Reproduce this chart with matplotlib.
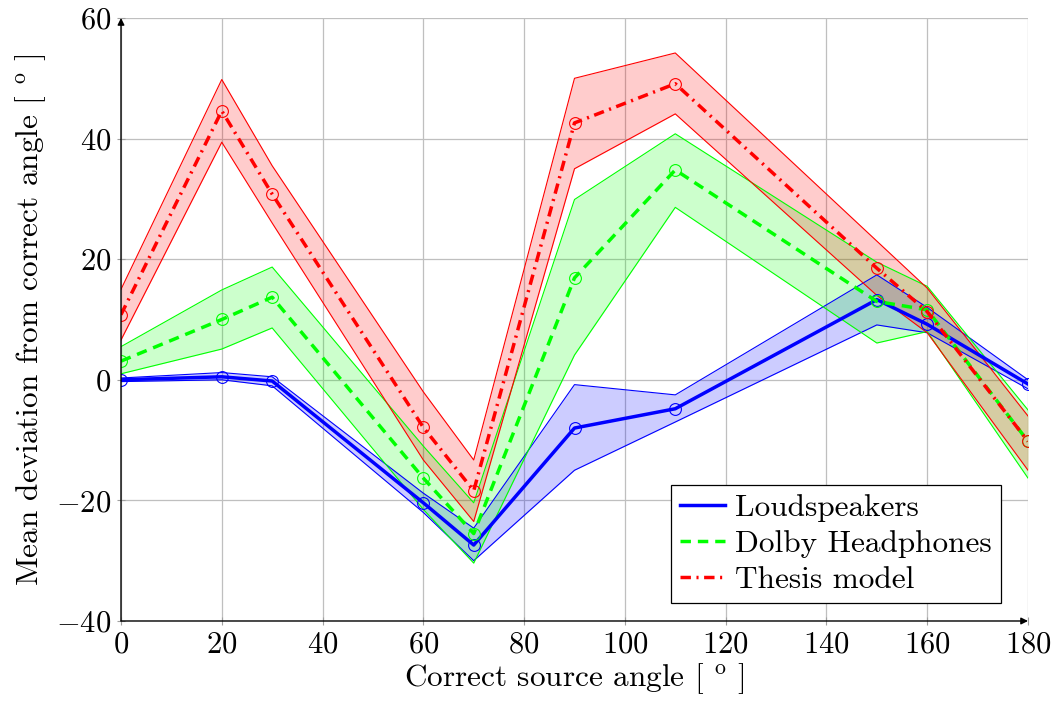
import matplotlib
matplotlib.use('Agg')
import matplotlib.pyplot as plt

# data
angles = [0, 20, 30, 60, 70, 90, 110, 150, 160, 180]

loud_mean = [0, 0.5, -0.2, -20.4, -27.4, -8, -4.8, 13.3, 9.2, -0.7]
loud_upper = [0.3, 1.2, 0.5, -18.8, -24.6, -0.8, -2.5, 17.4, 12.0, 0]
loud_lower = [-0.3, 0, -1.0, -22, -30, -15, -7, 9.1, 7.8, -1.5]

dolby_mean = [3.1, 10, 13.7, -16.3, -25.5, 16.9, 34.8, 13, 11.6, -10.2]
dolby_upper = [5.5, 14.9, 18.7, -11, -20.4, 29.9, 40.8, 19.5, 15.5, -5]
dolby_lower = [1.0, 5.1, 8.6, -21.5, -30.4, 4.1, 28.6, 6.1, 8, -16.3]

model_mean = [10.8, 44.6, 30.8, -7.9, -18.4, 42.6, 49.1, 18.5, 11.3, -10.2]
model_upper = [15, 49.8, 35.5, -2, -13.3, 50, 54.2, 23, 15.2, -6]
model_lower = [6.6, 39.4, 26, -13.3, -23.5, 35, 44.1, 14, 7.8, -15]

plt.rcParams['font.family'] = 'serif'
plt.rcParams['font.serif'] = ['cmr10']
plt.rcParams['mathtext.fontset'] = 'cm'
plt.rcParams['axes.formatter.use_mathtext'] = True
plt.rcParams['font.size'] = 22

fig = plt.figure(figsize=(10.54, 7.11), dpi=100)
ax = fig.add_axes([121 / 1054, 90 / 711, 907 / 1054, 603 / 711])

series = [
    ('Loudspeakers', loud_mean, loud_upper, loud_lower, (0, 0, 1), '-'),
    ('Dolby Headphones', dolby_mean, dolby_upper, dolby_lower, (0, 1, 0), (0, (3, 2))),
    ('Thesis model', model_mean, model_upper, model_lower, (1, 0, 0), (0, (3, 1.6, 0.6, 1.6))),
]

# bands first
for name, m, up, lo, c, ls in series:
    ax.fill_between(angles, lo, up, color=c, alpha=0.2, lw=0, zorder=2)
    ax.plot(angles, up, color=c, lw=0.8, zorder=3)
    ax.plot(angles, lo, color=c, lw=0.8, zorder=3)

for name, m, up, lo, c, ls in series:
    ax.plot(angles, m, color=c, lw=2.5, linestyle=ls, marker='o', ms=8.5,
            mfc='none', mec=c, mew=0.8, label=name, zorder=4)

ax.set_xlim(0, 180)
ax.set_ylim(-40, 60)
ax.set_xticks(range(0, 181, 20))
ax.set_yticks(range(-40, 61, 20))
ax.grid(True, color='#bfbfbf', lw=0.9)
ax.set_axisbelow(True)
ax.tick_params(direction='inout', length=6, width=0.8, color='#a0a0a0', pad=4)

for s in ['top', 'right', 'left', 'bottom']:
    ax.spines[s].set_visible(False)

# axis lines with arrow heads
ax.annotate('', xy=(1, 0), xytext=(0, 0), xycoords='axes fraction',
            arrowprops=dict(arrowstyle='-|>', color='k', lw=1.0, mutation_scale=10,
                            shrinkA=0, shrinkB=0), zorder=6)
ax.annotate('', xy=(0, 1), xytext=(0, 0), xycoords='axes fraction',
            arrowprops=dict(arrowstyle='-|>', color='k', lw=1.0, mutation_scale=10,
                            shrinkA=0, shrinkB=0), zorder=6)

ax.set_xlabel(r'Correct source angle [ $^{\mathrm{o}}$ ]', labelpad=2, fontsize=22.5)
ax.set_ylabel(r'Mean deviation from correct angle [ $^{\mathrm{o}}$ ]', labelpad=6, fontsize=22.5)

leg = ax.legend(loc='lower right', bbox_to_anchor=(0.970, 0.03), fancybox=False,
                edgecolor='black', framealpha=1, handlelength=1.45, handletextpad=0.3,
                borderpad=0.3, labelspacing=0.25, borderaxespad=0, fontsize=22.5)
leg.get_frame().set_linewidth(0.9)
for h in leg.get_lines():
    h.set_marker('')

fig.savefig('out.png', dpi=100)
